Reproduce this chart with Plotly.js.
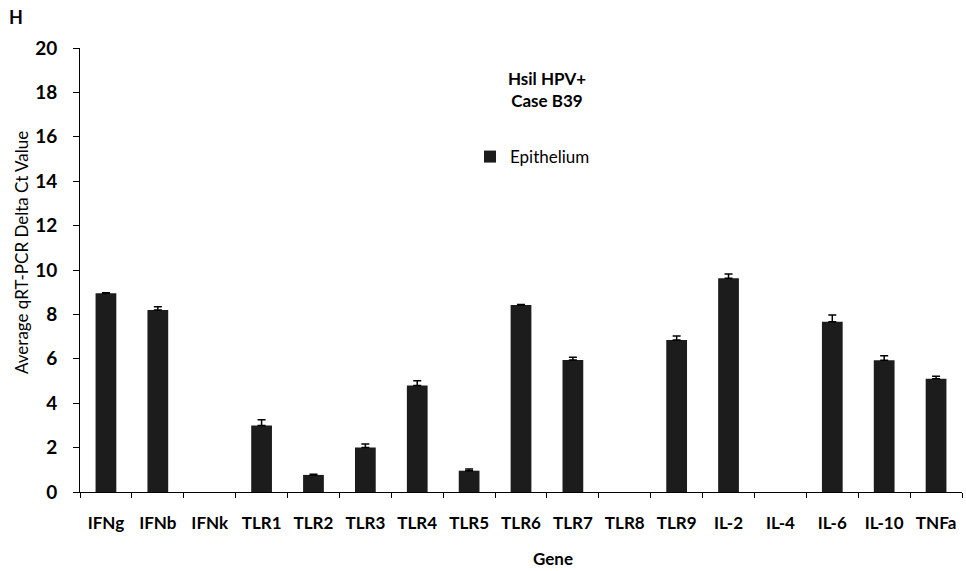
<!DOCTYPE html>
<html>
<head>
<meta charset="utf-8">
<script src="https://cdn.plot.ly/plotly-3.0.1.min.js"></script>
<style>html,body{margin:0;padding:0;background:#fff;}#chart{width:966px;height:571px;}</style>
</head>
<body>
<div id="chart"></div>
<script>
const genes = ["IFNg","IFNb","IFNk","TLR1","TLR2","TLR3","TLR4","TLR5","TLR6","TLR7","TLR8","TLR9","IL-2","IL-4","IL-6","IL-10","TNFa"];
// null = no bar shown for that gene
const epithelium = [8.95, 8.2, null, 2.99, 0.77, 2.0, 4.8, 0.96, 8.42, 5.95, null, 6.85, 9.63, null, 7.67, 5.93, 5.1];
const epitheliumErr = [0.03, 0.15, null, 0.27, 0.03, 0.16, 0.21, 0.08, 0.03, 0.12, null, 0.18, 0.19, null, 0.3, 0.21, 0.11];
const yTicks = [0, 2, 4, 6, 8, 10, 12, 14, 16, 18, 20];

const FONT = "Lato, 'Open Sans', sans-serif";

const trace = {
  type: "bar",
  name: "Epithelium",
  x: genes,
  y: epithelium,
  marker: {color: "#1c1c1c"},
  error_y: {type: "data", symmetric: false, array: epitheliumErr, arrayminus: epitheliumErr.map(v => v === null ? null : 0), color: "#000", thickness: 1.5, width: 4},
  showlegend: true
};

const layout = {
  width: 966, height: 571,
  margin: {l: 80, r: 4, t: 48, b: 79},
  paper_bgcolor: "#fff", plot_bgcolor: "#fff",
  font: {family: FONT, color: "#000"},
  bargap: 0.6,
  title: {text: "<b>Hsil HPV+<br>Case B39</b>", font: {family: FONT, size: 17, color: "#000"}, x: (547 - 80) / 882, xanchor: "center", xref: "paper", y: 0.851, yanchor: "middle", yref: "container"},
  xaxis: {
    type: "category", range: [-0.5, 16.5], categoryorder: "array", categoryarray: genes,
    showline: true, linecolor: "#000", linewidth: 1,
    ticks: "outside", ticklen: 5, tickcolor: "#000", tickson: "boundaries",
    tickfont: {family: FONT, size: 17, color: "#000", weight: "bold"},
    ticklabelstandoff: 16,
    showgrid: false, zeroline: false
  },
  yaxis: {
    range: [0, 20], tickvals: yTicks, ticktext: yTicks.map(String),
    showline: true, linecolor: "#000", linewidth: 1,
    ticks: "outside", ticklen: 6, tickcolor: "#000",
    tickfont: {family: FONT, size: 19, color: "#000", weight: "bold"},
    ticklabelstandoff: 12,
    showgrid: false, zeroline: false
  },
  showlegend: true,
  legend: {x: (470 - 80) / 882, xanchor: "left", y: 0.795, yanchor: "top", bgcolor: "rgba(0,0,0,0)", font: {family: FONT, size: 17, color: "#000"}},
  annotations: [
    {text: "<b>H</b>", xref: "paper", yref: "paper", x: -64/882, y: (492-17)/444, xanchor: "center", yanchor: "middle", showarrow: false, font: {family: FONT, size: 18, color: "#000"}},
    {text: "Average qRT-PCR Delta Ct Value", textangle: -90, xref: "paper", yref: "paper", x: -58/882, y: (492-253)/444, xanchor: "center", yanchor: "middle", showarrow: false, font: {family: FONT, size: 17, color: "#000"}},
    {text: "<b>Gene</b>", xref: "paper", yref: "paper", x: (553-80)/882, y: -(558-492)/444, xanchor: "center", yanchor: "middle", showarrow: false, font: {family: FONT, size: 17, color: "#000"}}
  ]
};

Plotly.newPlot("chart", [trace], layout, {displayModeBar: false, staticPlot: true});
</script>
</body>
</html>
